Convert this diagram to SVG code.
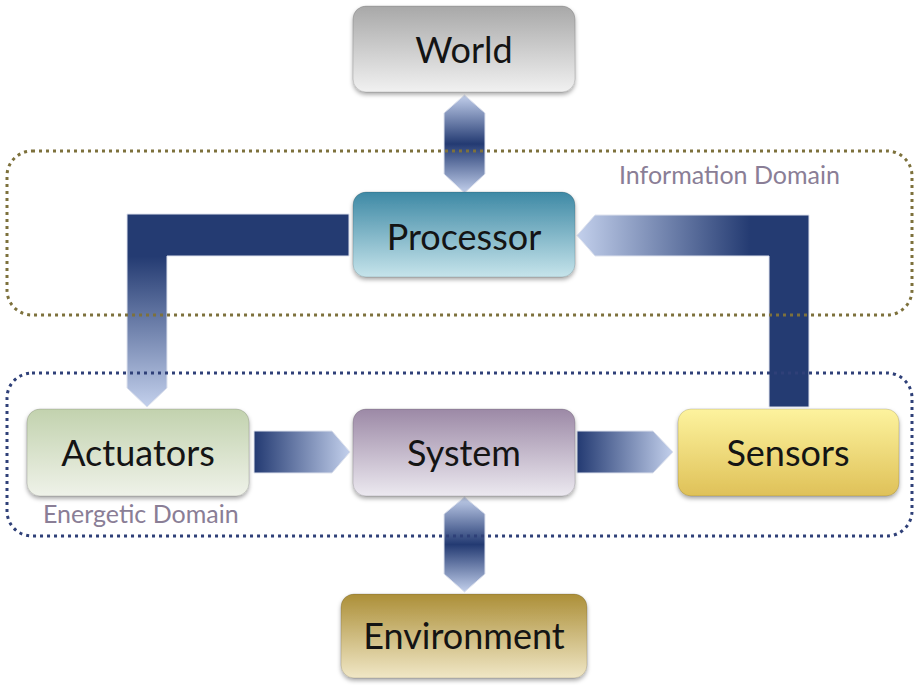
<svg xmlns="http://www.w3.org/2000/svg" width="914" height="685" viewBox="0 0 914 685">
<defs>
<style>
.lbl{font-family:Lato,"Liberation Sans",sans-serif;font-size:36px;fill:#141414;text-anchor:middle}
.dom{font-family:Lato,"Liberation Sans",sans-serif;font-size:25px;fill:#8a7e96}
.box{stroke:#000;stroke-opacity:0.14;stroke-width:1}
.conn{stroke:#dfe3ee;stroke-width:1}
</style>
<filter id="sh" x="-10%" y="-10%" width="120%" height="130%">
<feDropShadow dx="0" dy="2.5" stdDeviation="2" flood-color="#000" flood-opacity="0.35"/>
</filter>
<linearGradient id="gWorld" x1="0" y1="0" x2="0" y2="1"><stop offset="0" stop-color="#a8a8a8"/><stop offset="1" stop-color="#f1f1f1"/></linearGradient>
<linearGradient id="gProc" x1="0" y1="0" x2="0" y2="1"><stop offset="0" stop-color="#3e89a5"/><stop offset="1" stop-color="#c6e4eb"/></linearGradient>
<linearGradient id="gAct" x1="0" y1="0" x2="0" y2="1"><stop offset="0" stop-color="#c2d2ae"/><stop offset="1" stop-color="#eff2e9"/></linearGradient>
<linearGradient id="gSys" x1="0" y1="0" x2="0" y2="1"><stop offset="0" stop-color="#9c89a6"/><stop offset="1" stop-color="#ece9f0"/></linearGradient>
<linearGradient id="gSen" x1="0" y1="0" x2="0" y2="1"><stop offset="0" stop-color="#fdf39e"/><stop offset="1" stop-color="#dfc158"/></linearGradient>
<linearGradient id="gEnv" x1="0" y1="0" x2="0" y2="1"><stop offset="0" stop-color="#ac8f38"/><stop offset="1" stop-color="#f0e7c6"/></linearGradient>
<linearGradient id="gVd" x1="0" y1="0" x2="0" y2="1"><stop offset="0" stop-color="#c3d0ec"/><stop offset="0.5" stop-color="#233a72"/><stop offset="1" stop-color="#c3d0ec"/></linearGradient>
<linearGradient id="gH" x1="0" y1="0" x2="1" y2="0"><stop offset="0" stop-color="#233a72"/><stop offset="1" stop-color="#c3d0ec"/></linearGradient>
<linearGradient id="gL" gradientUnits="userSpaceOnUse" x1="0" y1="214" x2="0" y2="407"><stop offset="0" stop-color="#243b72"/><stop offset="0.22" stop-color="#243b72"/><stop offset="1" stop-color="#c3d0ec"/></linearGradient>
<linearGradient id="gR" gradientUnits="userSpaceOnUse" x1="577" y1="0" x2="750" y2="0"><stop offset="0" stop-color="#c3d0ec"/><stop offset="1" stop-color="#243b72"/></linearGradient>
</defs>
<rect width="914" height="685" fill="#fff"/>
<g id="connectors">
<path class="conn" fill="url(#gL)" d="M349 214 L127 214 L127 388 L147 407 L167 388 L167 256 L349 256 Z"/>
<path class="conn" fill="url(#gR)" d="M577 235.5 L595 215 L809 215 L809 407 L769 407 L769 256 L595 256 Z"/>
<path class="conn" fill="url(#gH)" d="M254 431 L332 431 L350 452 L332 473 L254 473 Z"/>
<path class="conn" fill="url(#gH)" d="M577 431 L653 431 L673 452 L653 473 L577 473 Z"/>
<path class="conn" fill="url(#gVd)" d="M464.5 95 L485 113 L485 174 L464.5 193 L444 174 L444 113 Z"/>
<path class="conn" fill="url(#gVd)" d="M464.5 497 L485 514 L485 574 L464.5 592 L444 574 L444 514 Z"/>
</g>
<g id="information-domain">
<rect x="7" y="151" width="905" height="164" rx="25" fill="none" stroke="#7d713c" stroke-width="3" stroke-dasharray="3 4"/>
<text class="dom" x="619" y="184">Information Domain</text>
</g>
<g id="energetic-domain">
<rect x="7" y="373" width="905" height="163" rx="25" fill="none" stroke="#2f4078" stroke-width="3" stroke-dasharray="3 4"/>
<text class="dom" x="43" y="523">Energetic Domain</text>
</g>
<g id="world">
<rect class="box" x="353" y="6" width="222" height="86" rx="13" fill="url(#gWorld)" filter="url(#sh)"/>
<text class="lbl" x="464" y="63">World</text>
</g>
<g id="processor">
<rect class="box" x="353" y="192" width="222" height="85" rx="13" fill="url(#gProc)" filter="url(#sh)"/>
<text class="lbl" x="464" y="250">Processor</text>
</g>
<g id="actuators">
<rect class="box" x="27" y="409" width="222" height="87" rx="13" fill="url(#gAct)" filter="url(#sh)"/>
<text class="lbl" x="138" y="466">Actuators</text>
</g>
<g id="system">
<rect class="box" x="353" y="409" width="222" height="87" rx="13" fill="url(#gSys)" filter="url(#sh)"/>
<text class="lbl" x="464" y="466">System</text>
</g>
<g id="sensors">
<rect class="box" x="678" y="409" width="221" height="87" rx="13" fill="url(#gSen)" filter="url(#sh)"/>
<text class="lbl" x="788" y="466">Sensors</text>
</g>
<g id="environment">
<rect class="box" x="341" y="594" width="246" height="84" rx="13" fill="url(#gEnv)" filter="url(#sh)"/>
<text class="lbl" x="464" y="649">Environment</text>
</g>
</svg>
